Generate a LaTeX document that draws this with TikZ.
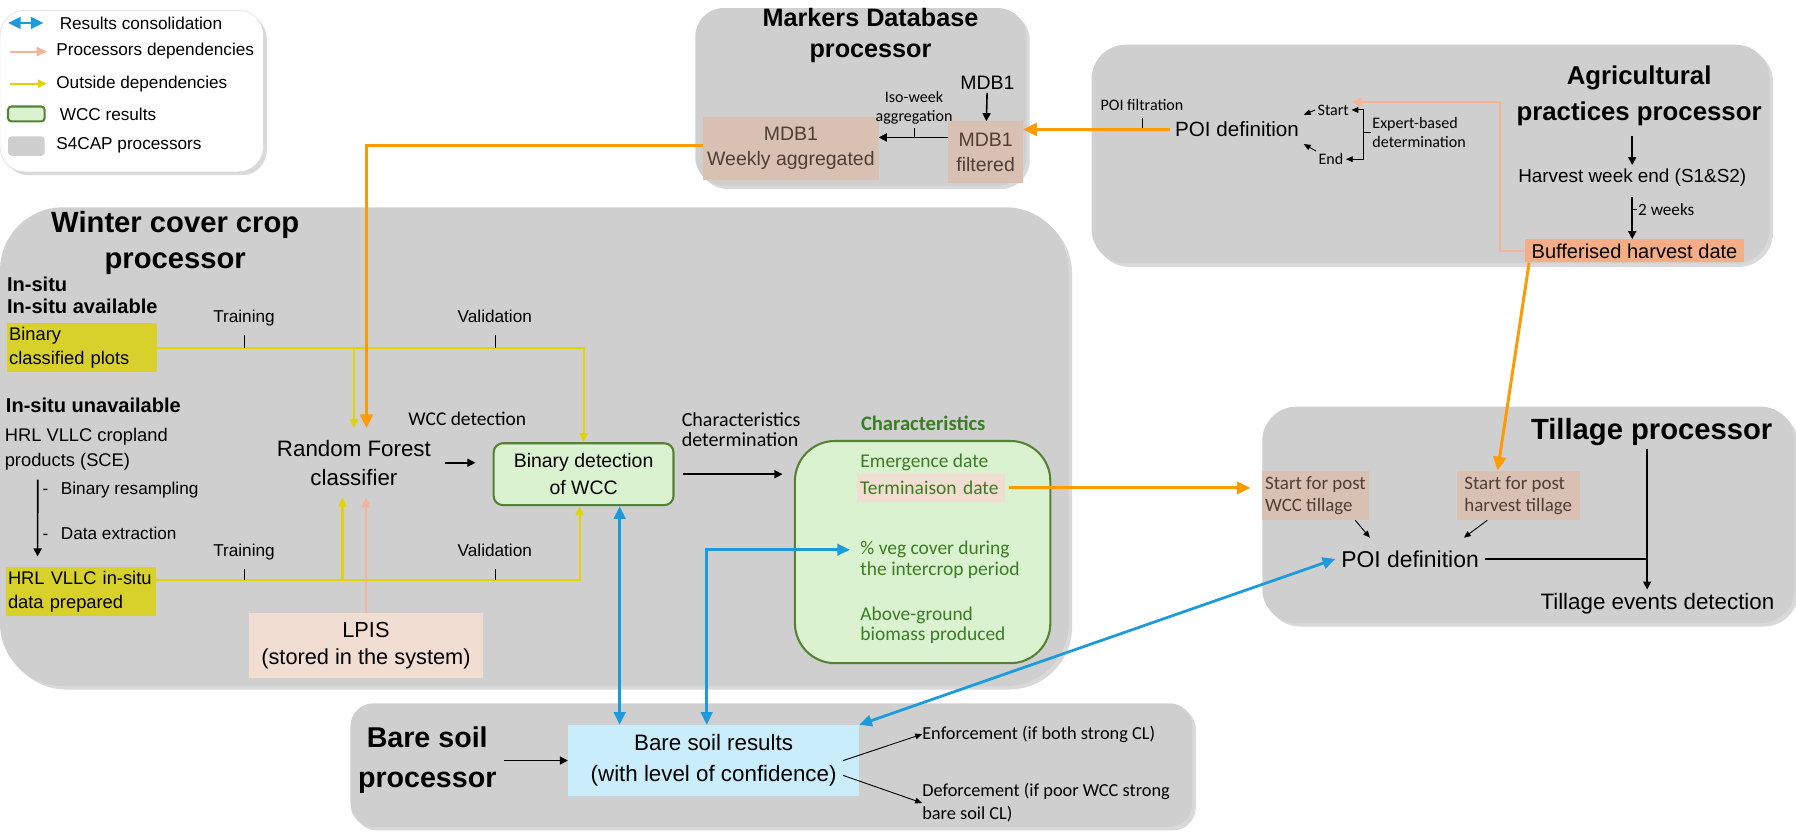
\documentclass[tikz,border=0pt]{standalone}
\usepackage{fontspec}
\setmainfont{Liberation Sans}
\newfontfamily\cfont{Carlito}
\usetikzlibrary{arrows.meta,shadows}
\newcommand{\fsz}[2]{\fontsize{#1}{#2}\selectfont}
\definecolor{procgray}{HTML}{CFCFCF}
\definecolor{consblue}{HTML}{1B9BDB}
\definecolor{depsalmon}{HTML}{F5B49A}
\definecolor{outyellow}{HTML}{E0D500}
\definecolor{plotyellow}{HTML}{D9D12B}
\definecolor{wccgreen}{HTML}{548235}
\definecolor{wccfill}{HTML}{DAF2D0}
\definecolor{wcctext}{HTML}{3B7D23}
\definecolor{mdbbrown}{HTML}{D8C0B3}
\definecolor{lpispink}{HTML}{F2DDD3}
\definecolor{bufforange}{HTML}{F4AD86}
\definecolor{linkorange}{HTML}{FF9A00}
\definecolor{soilblue}{HTML}{C9EDFA}
\definecolor{txtbrown}{HTML}{4E3E36}
\begin{document}
\begin{tikzpicture}[x=1pt,y=-1pt,
  proc/.style={fill=procgray,drop shadow={shadow xshift=3pt,shadow yshift=-3pt,opacity=.3}},
  blackarr/.style={line width=1.4pt,-{Triangle[length=7pt,width=7pt]}},
  smallarr/.style={line width=.8pt,-{Triangle[length=6pt,width=5pt]}},
  consarr/.style={consblue,line width=2.4pt,{Triangle[length=11pt,width=10pt]}-{Triangle[length=11pt,width=10pt]}},
  linkarr/.style={linkorange,line width=2.6pt,-{Triangle[length=12pt,width=11pt]}},
  outarr/.style={outyellow,line width=1.8pt,-{Triangle[length=8pt,width=7pt]}},
  deparr/.style={depsalmon,line width=1.8pt,-{Triangle[length=9pt,width=8pt]}},
  leg/.style={font=\fsz{15}{17},anchor=west,inner sep=0pt},
  txt/.style={font=\fsz{17}{22},align=center,inner sep=3pt},
  bigtxt/.style={font=\fsz{19.5}{25},align=center,inner sep=3pt},
  ticklbl/.style={font=\fsz{15}{18},inner sep=1pt,text depth=3pt},
  nlbl/.style={font=\cfont\fsz{14}{17},align=center,inner sep=1pt},
  ctxt/.style={font=\cfont\fsz{17}{18},text=wcctext,anchor=west,align=left,inner sep=0pt},
  mdbbox/.style={fill=mdbbrown,text=txtbrown,font=\fsz{17}{22},align=center,inner sep=0pt},
  tilbox/.style={fill=mdbbrown,text=txtbrown,font=\cfont\fsz{16.5}{19},align=left,inner xsep=2pt,minimum height=43},
  yellowbox/.style={fill=plotyellow,font=\fsz{16}{21},align=left,inner xsep=2pt,inner ysep=0pt},
  wccbox/.style={draw=wccgreen,line width=1.8pt,fill=wccfill,align=center}]
\useasboundingbox (0,0) rectangle (1568,727);
% legend
\filldraw[draw=gray!30,fill=white,rounded corners=22pt,drop shadow={shadow xshift=3pt,shadow yshift=-3pt,opacity=.3}] (0,9) rectangle (230,150);
\draw[consarr] (7,20) -- (38,20);
\draw[deparr] (9,45) -- (41,45);
\draw[outarr] (9,73) -- (41,73);
\filldraw[draw=wccgreen,fill=wccfill,line width=1.8pt,rounded corners=3pt] (7,93) rectangle (39,106);
\fill[procgray,rounded corners=3pt] (7,119) rectangle (39,136);
\foreach \ly/\lx/\ltxt in {20/52/Results consolidation,45/49/Processors dependencies,73/49/Outside dependencies,100/52/WCC results,127/49/S4CAP processors}
\node[leg] (lg\ly) at (\lx,\ly) {\ltxt};
% processors
\fill[proc,rounded corners=25pt] (607,7) rectangle (896,162); % markers database
\fill[proc,rounded corners=30pt] (953,39) rectangle (1545,230); % agricultural practices
\fill[proc,rounded corners=55pt] (0,181) rectangle (933,599); % winter cover crop
\fill[proc,rounded corners=30pt] (1102,355) rectangle (1567,544); % tillage
\fill[proc,rounded corners=20pt] (306,614) rectangle (1041,722); % bare soil
% markers database processor
\node[font=\bfseries\fsz{22}{27},align=center] (mdbttl) at (760,31) {Markers Database\\processor};
\node[txt] (mdbin) at (862,72) {MDB1};
\node[mdbbox,minimum width=65,minimum height=54] (mdbfilt) at (860.5,133) {MDB1\\filtered};
\node[mdbbox,minimum width=153,minimum height=55] (mdbweek) at (690.5,129.5) {MDB1\\Weekly aggregated};
\coordinate (aggtick) at (798,120);
\draw[blackarr] (mdbin) -- (mdbfilt);
\draw[blackarr] (mdbfilt.west |- aggtick) -- (mdbweek.east |- aggtick);
\draw (aggtick) -- ++(0,-8) node[nlbl,above=2pt] (agglbl) {Iso-week\\aggregation};
% agricultural practices processor
\node[font=\bfseries\fsz{22.5}{31},align=center] (agrittl) at (1431,83.5) {Agricultural\\practices processor};
\node[font=\fsz{18}{22},inner xsep=4pt,inner ysep=6pt] (agripoi) at (1080,113) {POI definition};
\coordinate (filttick) at (997,112);
\draw (filttick) -- ++(0,-9) node[nlbl,above=5pt] (filtlbl) {POI filtration};
\draw[linkarr] (agripoi.west) -- (mdbfilt.east |- agripoi.west);
\node[nlbl,inner sep=2pt] (startn) at (1164,96) {Start};
\node[nlbl,inner sep=2pt] (endn) at (1162,139) {End};
\draw[smallarr] (startn.west) -- (agripoi.north east);
\draw[smallarr] (endn.north west) -- (agripoi.south east);
\node[nlbl,anchor=west,align=left] (expert) at (1197,115.5) {Expert-based\\determination};
\draw[smallarr] (expert.west) -- ++(-7,0) |- (startn.east);
\draw[smallarr] (expert.west) -- ++(-7,0) |- (endn.east);
\node[txt,font=\fsz{16.5}{20}] (harvest) at (1425,155) {Harvest week end (S1\&S2)};
\node[fill=bufforange,minimum width=192,minimum height=20,inner sep=0pt,font=\fsz{17.5}{21}] (buffer) at (1427,219) {Bufferised harvest date};
\draw[blackarr,shorten <=6pt] (harvest.north |- agrittl.south) -- (harvest.north);
\draw[blackarr,shorten <=6pt] (harvest.south) -- coordinate[pos=.4] (wks) (harvest.south |- buffer.north);
\draw (wks) -- ++(4,0) node[nlbl,right,font=\cfont\fsz{15}{17}] (wkslbl) {2 weeks};
\draw[deparr] (buffer.west) -- ++(-21,0) |- (startn.north east);
% winter cover crop processor
\node[font=\bfseries\fsz{25.5}{32},align=center] (wccttl) at (153,212) {Winter cover crop\\processor};
\node[font=\bfseries\fsz{17.5}{19},align=left,anchor=west,inner sep=0pt] (insitu) at (6,258) {In-situ\\In-situ available};
\node[yellowbox,text width=127,minimum height=43] (plots) at (71.5,303.5) {Binary\\classified plots};
\node[font=\bfseries\fsz{17.5}{19},anchor=west,inner sep=0pt] (nosit) at (5,354) {In-situ unavailable};
\node[font=\fsz{16}{22},align=left,anchor=west,inner sep=0pt] (hrl) at (4,392) {HRL VLLC cropland\\products (SCE)};
\node[font=\fsz{15}{18},anchor=west,inner sep=0pt] (resamp) at (37,428) {-\hspace{11pt}Binary resampling};
\node[font=\fsz{15}{18},anchor=west,inner sep=0pt] (extract) at (37,466) {-\hspace{11pt}Data extraction};
\node[yellowbox,text width=127,minimum height=43] (hrlprep) at (70.5,516.5) {HRL VLLC in-situ\\data prepared};
\draw[blackarr,shorten <=8pt,shorten >=9pt] ([xshift=29pt]hrl.south west) -- ([xshift=28pt]hrlprep.north west);
\node[bigtxt,minimum width=158,minimum height=60] (rf) at (309,404) {Random Forest\\classifier};
\node[font=\cfont\fsz{17}{20}] (wccdet) at (408,366) {WCC detection};
\node[wccbox,rounded corners=8pt,minimum width=157,minimum height=54,font=\fsz{17}{23}] (bindet) at (509.5,414) {Binary detection\\of WCC};
\node[fill=lpispink,minimum width=205,minimum height=57,font=\fsz{19}{24},align=center] (lpis) at (319.5,563.5) {LPIS\\(stored in the system)};
\coordinate (prepout) at ([yshift=10.5pt]hrlprep.east);
\draw[outarr] (plots.east) -| (bindet.north);
\draw[outarr] (rf.north |- plots.east) -- (rf.north);
\draw[outarr] (prepout) -| ([xshift=-3.5pt]bindet.south);
\draw[outarr] ([xshift=-10pt]rf.south |- prepout) -- ([xshift=-10pt]rf.south);
\foreach \tx/\tname in {213/Training,432/Validation}{
\draw (\tx,303.5) -- ++(0,-11) node[ticklbl,above=7pt] (tku\tx) {\tname};
\draw (\tx,506) -- ++(0,-9) node[ticklbl,above=7pt] (tkl\tx) {\tname};}
\draw[deparr] (lpis.north) -- (lpis.north |- rf.south);
\draw[linkarr] ([yshift=2.5pt]mdbweek.west) -| ([xshift=11pt]rf.north);
\draw[blackarr,shorten >=15pt] (rf.east) -- (rf.east -| bindet.west);
\node[font=\cfont\fsz{17.5}{18},align=left,anchor=west,inner sep=0pt] (chardet) at (595,375) {Characteristics\\determination};
\node[wccbox,rounded corners=35pt,minimum width=223,minimum height=194] (charbox) at (805.5,482) {};
\draw[blackarr,shorten <=7pt,shorten >=10pt] (bindet.east) -- (bindet.east -| charbox.west);
\node[font=\cfont\bfseries\fsz{18}{20},text=wcctext] (chartl) at (806,370) {Characteristics};
\node[ctxt] (emerg) at (751,404) {Emergence date};
\node[fill=lpispink,minimum height=24,text width=123,inner xsep=3pt,inner ysep=0pt,align=left,font=\cfont\fsz{17}{18},text=wcctext] (termin) at (812.5,426) {Terminaison date};
\node[ctxt] (vegtxt) at (751,489) {\% veg cover during\\the intercrop period};
\node[ctxt] (biomass) at (751,546) {Above-ground\\biomass produced};
% tillage processor
\node[font=\bfseries\fsz{25.5}{30},inner sep=3pt] (tilttl) at (1442,377) {Tillage processor};
\node[tilbox,minimum width=93] (wcctill) at (1148.5,432.5) {Start for post\\WCC tillage};
\node[tilbox,minimum width=107] (harvtill) at (1325.5,432.5) {Start for post\\harvest tillage};
\node[font=\fsz{20}{24},inner sep=5pt] (tilpoi) at (1231,488) {POI definition};
\node[bigtxt] (tilev) at (1447,527) {Tillage events detection};
\coordinate (tiljoin) at (1438,488);
\draw[blackarr] (tilttl.south -| tiljoin) -- (tiljoin |- tilev.north);
\draw[line width=1.4pt] (tilpoi.east) -- (tiljoin);
\draw[smallarr] ([xshift=-12pt]wcctill.south east) -- ([xshift=-35pt,yshift=6pt]tilpoi.north);
\draw[smallarr] ([xshift=-27pt]harvtill.south) -- ([xshift=47pt,yshift=6pt]tilpoi.north);
\draw[linkarr,shorten <=4pt,shorten >=10pt] (termin.east) -- (termin.east -| wcctill.west);
\draw[linkarr] ([xshift=-92pt]buffer.south) -- ([xshift=-18pt]harvtill.north);
% bare soil processor
\node[font=\bfseries\fsz{25}{35},align=center] (bsttl) at (373,663.5) {Bare soil\\processor};
\node[fill=soilblue,minimum width=254,minimum height=62,font=\fsz{19.5}{27},align=center] (bsres) at (623,664) {Bare soil results\\(with level of confidence)};
\draw[blackarr,shorten <=3pt] (bsttl.east |- bsres.west) -- (bsres.west);
\node[font=\cfont\fsz{16}{20},anchor=west,inner sep=0pt] (enforce) at (805,641) {Enforcement (if both strong CL)};
\node[font=\cfont\fsz{16}{20},anchor=west,align=left,inner sep=0pt] (deforce) at (805,701) {Deforcement (if poor WCC strong\\bare soil CL)};
\draw[smallarr] ([xshift=-14pt]bsres.east) -- (enforce.west);
\draw[smallarr] ([xshift=-14pt,yshift=-13pt]bsres.east) -- (deforce.west);
% results consolidation
\draw[consarr] ([xshift=-82pt]bsres.north) -- ([xshift=-82pt]bsres.north |- bindet.south);
\draw[consarr] ([xshift=-6pt]bsres.north) |- ([xshift=-9pt,yshift=9pt]vegtxt.west);
\draw[consarr] (bsres.north east) -- (tilpoi.west);
\end{tikzpicture}
\end{document}
